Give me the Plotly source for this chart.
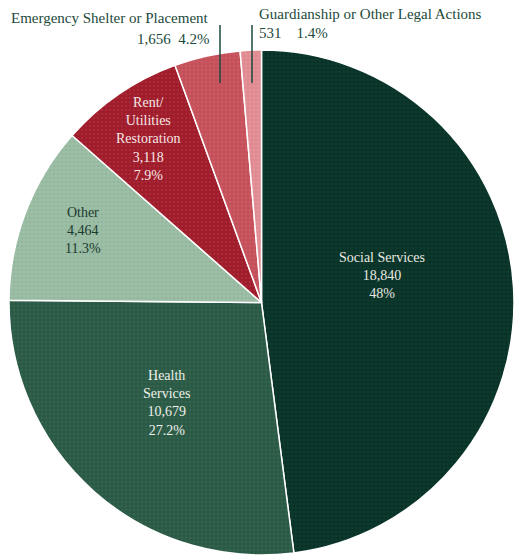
import plotly.graph_objects as go

# Service categories, counts and percent labels
categories = ["Social Services", "Health Services", "Other", "Rent/Utilities Restoration",
              "Emergency Shelter or Placement", "Guardianship or Other Legal Actions"]
counts = [18840, 10679, 4464, 3118, 1656, 531]
pct_labels = ["48%", "27.2%", "11.3%", "7.9%", "4.2%", "1.4%"]

colors = ["#0c382d", "#2a5a47", "#9dbea6", "#9e1c2b", "#c4505a", "#df8a90"]
dot_colors = ["#04231c", "#3d7050", "#86ab92", "#b83440", "#d46670", "#e9a0a6"]

W, H = 514, 559
fig = go.Figure(go.Pie(
    labels=categories,
    values=counts,
    sort=False,
    direction="clockwise",
    rotation=0,
    textinfo="none",
    hoverinfo="label+value+percent",
    marker=dict(colors=colors, line=dict(color="white", width=1.5),
                pattern=dict(shape=".", fgcolor=dot_colors, size=4, solidity=0.3,
                             fillmode="overlay")),
    domain=dict(x=[9 / W, 1.0], y=[4 / H, 1 - 50 / H]),
    showlegend=False,
))

serif = "Liberation Serif"


def fmt(n):
    return f"{n:,}"


def px(x, y):
    return x / W, 1 - y / H


def note(x, y, text, color, size=14, xanchor="center"):
    xp, yp = px(x, y)
    return dict(x=xp, y=yp, xref="paper", yref="paper", text=text,
                showarrow=False, align="center", xanchor=xanchor, yanchor="middle",
                font=dict(family=serif, size=size, color=color))


inside = [
    # (index, lines, center x, center y, color)
    (0, ["Social Services"], 382, 275, "#e9e8e0"),
    (1, ["Health", "Services"], 166, 403, "#f0f0ea"),
    (2, ["Other"], 83, 231, "#1b3a2f"),
    (3, ["Rent/", "Utilities", "Restoration"], 148, 139, "#f5e6e6"),
]
annotations = []
for i, lines, cx, cy, col in inside:
    annotations.append(note(cx, cy, "<br>".join(lines + [fmt(counts[i]), pct_labels[i]]), col))

label_col = "#1d4a3b"
annotations.append(note(9, 18, categories[4], label_col, 15, "left"))
annotations.append(note(212, 39, f"{fmt(counts[4])}  {pct_labels[4]}", label_col, 15, "right"))
annotations.append(note(257, 14, categories[5], label_col, 15, "left"))
annotations.append(note(257, 33, f"{fmt(counts[5])}    {pct_labels[5]}", label_col, 15, "left"))

# Leader lines for the two small slices
shapes = []
for lx in (220, 252):
    shapes.append(dict(type="line", xref="paper", yref="paper",
                       x0=lx / W, x1=lx / W, y0=1 - 25 / H, y1=1 - 83 / H,
                       line=dict(color=label_col, width=1.5)))

fig.update_layout(
    width=W, height=H,
    margin=dict(l=0, r=0, t=0, b=0),
    paper_bgcolor="white",
    plot_bgcolor="white",
    annotations=annotations,
    shapes=shapes,
)

fig.write_html("out.html")
